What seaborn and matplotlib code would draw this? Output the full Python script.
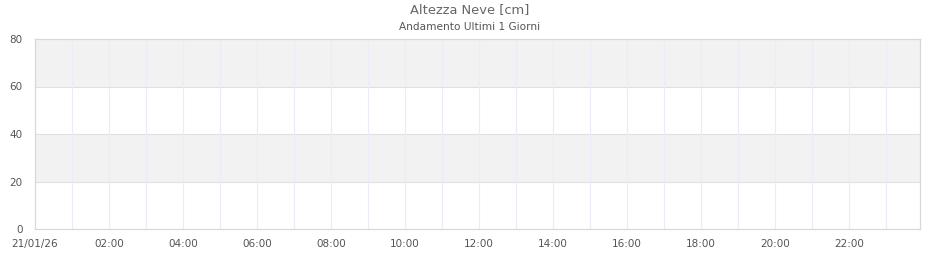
import matplotlib
matplotlib.use("Agg")
import matplotlib.pyplot as plt
import seaborn as sns
import pandas as pd

# ---- data ----
title = "Altezza Neve [cm]"
subtitle = "Andamento Ultimi 1 Giorni"
hours = []            # no measurements in the period
snow_depth_cm = []
x_tick_hours = [0, 2, 4, 6, 8, 10, 12, 14, 16, 18, 20, 22]
x_tick_labels = ["21/01/26", "02:00", "04:00", "06:00", "08:00", "10:00",
                 "12:00", "14:00", "16:00", "18:00", "20:00", "22:00"]
y_ticks = [0, 20, 40, 60, 80]
x_max_hours = 23.92

sns.set_theme(style="white")
plt.rcParams['font.family'] = ['DejaVu Sans']

fig = plt.figure(figsize=(9.4, 2.6), dpi=100)
ax = fig.add_axes([35/940, 1 - 229/260, (920-35)/940, (229-39)/260])

df = pd.DataFrame({"hour": pd.Series(hours, dtype=float),
                   "cm": pd.Series(snow_depth_cm, dtype=float)})
sns.lineplot(data=df, x="hour", y="cm", ax=ax, color="#4572a7")

ax.set_xlim(0, x_max_hours)
ax.set_ylim(0, 80)

# alternate bands
for i in range(len(y_ticks) - 1):
    if i % 2 == 1:
        ax.axhspan(y_ticks[i], y_ticks[i+1], color="#f2f2f2", zorder=0, lw=0)
for y in y_ticks[1:-1]:
    ax.axhline(y, color="#e0e0e0", lw=0.8, zorder=1)
for h in range(1, 24):
    ax.axvline(h, color="#ecebf8", lw=0.8, zorder=1)

ax.set_xticks(x_tick_hours)
ax.set_xticklabels(x_tick_labels)
ax.set_yticks(y_ticks)
ax.tick_params(axis="both", length=0, labelsize=7.5, labelcolor="#555555")
ax.tick_params(axis="x", pad=7)
ax.tick_params(axis="y", pad=9)
ax.set_xlabel("")
ax.set_ylabel("")
for s in ax.spines.values():
    s.set_color("#d8d8d8")
    s.set_linewidth(0.9)

fig.text(0.5, 1 - 10/260, title, ha="center", va="center", fontsize=9.4, color="#666666")
fig.text(0.5, 1 - 27/260, subtitle, ha="center", va="center", fontsize=7.6, color="#555555")

fig.savefig("out.png", dpi=100, facecolor="white")
